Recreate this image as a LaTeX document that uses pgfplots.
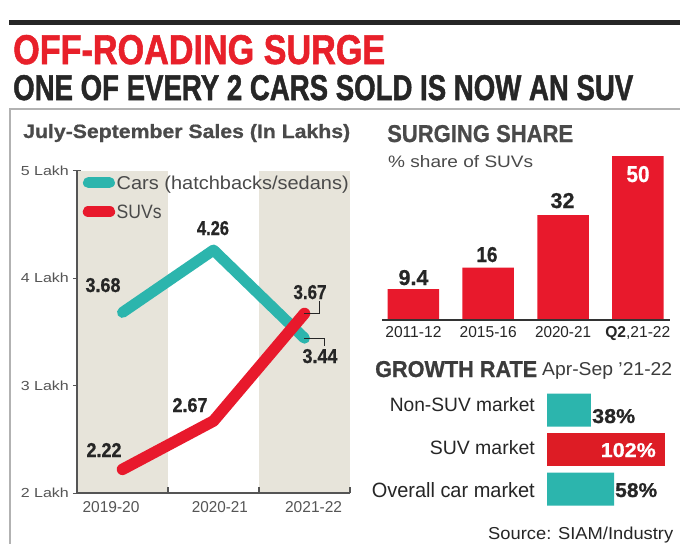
\documentclass[border=0pt]{standalone}
\usepackage{pgfplots}
\pgfplotsset{compat=1.18}
\usepackage{graphicx}
\usepackage{fontspec}
\setmainfont{Liberation Sans}
\newfontfamily\hv[FakeBold=1.5]{Liberation Sans Bold}
\newfontfamily\hvb[FakeBold=0.8]{Liberation Sans Bold}
\definecolor{tred}{HTML}{E8202A}
\definecolor{teal1}{HTML}{2CB5AD}
\definecolor{red1}{HTML}{E8192C}
\definecolor{red2}{HTML}{DD1C25}
\definecolor{band}{HTML}{E7E4DA}
\definecolor{txtg}{HTML}{4A4A4A}
\definecolor{axg}{HTML}{555555}
\definecolor{dk}{HTML}{262626}
\newcommand{\rb}[3]{\resizebox{#1pt}{#2pt}{#3}}

\begin{document}
\begin{tikzpicture}[x=1pt,y=-1pt]
\useasboundingbox (0,0) rectangle (680,544);
\fill[white] (0,0) rectangle (680,544);
% rules and panel border
\fill[black!85] (9,20) rectangle (680,24.5);
\draw[black!30, line width=1.5pt] (9,109) -- (680,109);
\draw[black!30, line width=1.5pt] (10,109) -- (10,544);

% titles
\node[anchor=base west, inner sep=0pt, text=tred] at (13,64) {\rb{372}{29}{\hv OFF-ROADING SURGE}};
\node[anchor=base west, inner sep=0pt, text=dk] at (13,100) {\rb{620}{25}{\hv ONE OF EVERY 2 CARS SOLD IS NOW AN SUV}};
\node[anchor=base west, inner sep=0pt, text=txtg] at (23,138) {\rb{327}{14}{\hvb July-September Sales (In Lakhs)}};
\node[anchor=base west, inner sep=0pt, text=txtg] at (387,142) {\rb{186}{17}{\hvb SURGING SHARE}};
\node[anchor=base west, inner sep=0pt, text=txtg] at (388,167) {\rb{145}{12}{\% share of SUVs}};

% ---------------- left line chart ----------------
\begin{axis}[at={(77pt,-493pt)}, anchor=south west, scale only axis,
  width=273pt, height=322.5pt,
  xmin=-0.5, xmax=2.5, ymin=2, ymax=5, clip=false, axis on top,
  axis x line=bottom, axis y line=left,
  axis line style={-, draw=axg, line width=1.2pt},
  tick align=outside, major tick length=4pt,
  xtick={-0.126,1.07,2.10},
  xticklabels={\rb{57}{11}{2019-20},\rb{56}{11}{2020-21},\rb{57}{11}{2021-22}},
  xtick style={draw=none},
  xticklabel style={anchor=base, inner sep=0pt, text=axg, yshift=-15pt},
  ytick={2,3,4,5},
  yticklabels={\rb{48}{9.5}{2 Lakh},\rb{48}{9.5}{3 Lakh},\rb{48}{9.5}{4 Lakh},\rb{48}{9.5}{5 Lakh}},
  ytick style={draw=axg, line width=1pt},
  yticklabel style={anchor=east, inner sep=0pt, text=axg, xshift=-4pt},
  legend image code/.code={\draw[#1] (0pt,0pt) -- (21pt,0pt);},
  legend cell align=left,
  legend style={at={(0,1)}, anchor=north west, xshift=5.5pt, yshift=-5.25pt,
    draw=none, fill=none, inner sep=0pt, row sep=15.5pt,
    /tikz/every odd column/.append style={column sep=1.5pt},
    nodes={inner sep=0pt, text depth=0pt, text=txtg}},
]
\fill[band] (axis cs:-0.5,2) rectangle (axis cs:0.5,5);
\fill[band] (axis cs:1.5,2) rectangle (axis cs:2.5,5);
\draw[axg, line width=1.2pt] (axis cs:0.5,2) -- (axis cs:0.5,2.056);
\draw[axg, line width=1.2pt] (axis cs:1.5,2) -- (axis cs:1.5,2.056);
\draw[axg, line width=1.2pt] (axis cs:2.5,2) -- (axis cs:2.5,2.056);
\draw[axg, line width=1.2pt] (axis cs:-0.5,5) -- (axis cs:-0.456,5);
\addplot[teal1, line width=11pt, line cap=round, line join=round] coordinates {(0,3.68) (1,4.26) (2,3.44)};
\addlegendentry{\rb{232}{13.5}{Cars (hatchbacks/sedans)}}
\addplot[red1, line width=11.5pt, line cap=round, line join=round] coordinates {(0,2.22) (1,2.67) (2,3.67)};
\addlegendentry{\rb{45}{13.5}{SUVs}}
\draw[dk, line width=0.9pt] (axis cs:2,3.67) -- (axis cs:2.165,3.67) -- (axis cs:2.165,3.785);
\draw[dk, line width=0.9pt] (axis cs:2,3.44) -- (axis cs:2.22,3.44) -- (axis cs:2.22,3.365);
\end{axis}

% line chart value labels
\node[anchor=base, inner sep=0pt, text=dk] at (103,292) {\rb{35}{14}{\hvb 3.68}};
\node[anchor=base, inner sep=0pt, text=dk] at (213,235) {\rb{32}{14}{\hvb 4.26}};
\node[anchor=base, inner sep=0pt, text=dk] at (310,299) {\rb{33}{14}{\hvb 3.67}};
\node[anchor=base, inner sep=0pt, text=dk] at (320,363) {\rb{35}{14}{\hvb 3.44}};
\node[anchor=base, inner sep=0pt, text=dk] at (190,412) {\rb{35}{14}{\hvb 2.67}};
\node[anchor=base, inner sep=0pt, text=dk] at (104,457) {\rb{35}{14}{\hvb 2.22}};

% ---------------- right bar chart ----------------
\begin{axis}[at={(382pt,-320pt)}, anchor=south west, scale only axis,
  width=288pt, height=164pt,
  xmin=-0.42, xmax=3.43, ymin=0, ymax=50, clip=false, axis on top,
  axis x line=bottom, axis y line=none,
  axis line style={-, draw=black!80, line width=1.3pt},
  xtick={0,1,2,3}, major tick length=0pt, ytick=\empty,
  xticklabels={\rb{56}{11}{2011-12},\rb{57}{11}{2015-16},\rb{56}{11}{2020-21},\rb{65}{11}{\textbf{Q2},21-22}},
  xticklabel style={anchor=base, inner sep=0pt, text=dk, yshift=-17pt},
]
\addplot[ybar, bar width=51.5pt, bar shift=0pt, fill=red1, draw=none] coordinates {(0,9.4) (1,16) (2,32) (3,50)};
\end{axis}

\node[anchor=base, inner sep=0pt, text=dk] at (413.5,285) {\rb{30}{15}{\hvb 9.4}};
\node[anchor=base, inner sep=0pt, text=dk] at (487,262) {\rb{21}{15}{\hvb 16}};
\node[anchor=base, inner sep=0pt, text=dk] at (562.5,208) {\rb{24}{15}{\hvb 32}};
\node[anchor=base, inner sep=0pt, text=white] at (638,182) {\rb{23}{16}{\hvb 50}};

% ---------------- growth rate ----------------
\node[anchor=base west, inner sep=0pt, text=dk!90] at (375,377) {\rb{162}{16}{\hvb GROWTH RATE}};
\node[anchor=base west, inner sep=0pt, text=dk!90] at (542,375) {\rb{130}{13}{Apr-Sep ’21-22}};

\begin{axis}[at={(547pt,-508.75pt)}, anchor=south west, scale only axis,
  width=127.3pt, height=118.5pt,
  xmin=0, xmax=110, ymin=-0.5, ymax=2.5, hide axis, clip=false]
\addplot[xbar, bar width=33pt, bar shift=0pt, fill=teal1, draw=none] coordinates {(38,2) (58,0)};
\addplot[xbar, bar width=33pt, bar shift=0pt, fill=red2, draw=none] coordinates {(102,1)};
\end{axis}

\node[anchor=base east, inner sep=0pt, text=dk] at (535,411) {\rb{145}{14}{Non-SUV market}};
\node[anchor=base east, inner sep=0pt, text=dk] at (535,454) {\rb{105}{14}{SUV market}};
\node[anchor=base east, inner sep=0pt, text=dk] at (535,497) {\rb{163}{15}{Overall car market}};
\node[anchor=base west, inner sep=0pt, text=dk] at (592,423) {\rb{43}{14}{\hvb 38\%}};
\node[anchor=base east, inner sep=0pt, text=white] at (656,457) {\rb{55}{14}{\hvb 102\%}};
\node[anchor=base west, inner sep=0pt, text=dk] at (615,497) {\rb{42}{14}{\hvb 58\%}};
\node[anchor=base west, inner sep=0pt, text=dk] at (488,539.5) {\rb{185}{12.5}{Source: SIAM/Industry}};
\end{tikzpicture}
\end{document}
